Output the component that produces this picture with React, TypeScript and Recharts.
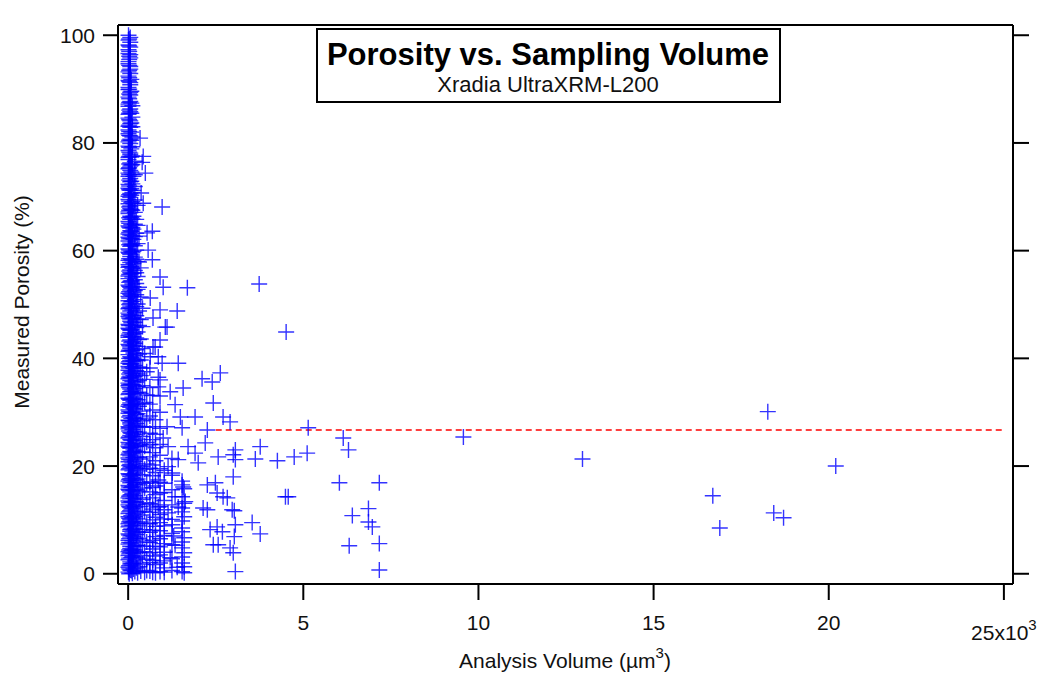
import { ReferenceLine, Scatter, ScatterChart, XAxis, YAxis } from 'recharts';

// analysis volume in 10^3 µm³, porosity in %
// dense column of small volumes: one list of porosities per volume
const coreVolumes = [0.01, 0.03, 0.06, 0.09, 0.12, 0.15, 0.19, 0.23, 0.27, 0.31, 0.36, 0.41, 0.47, 0.53];
const coreA = [
  0.3, 1.2, 2.6, 3.4, 4.1, 5.5, 6.2, 7.4, 8.7, 9.3, 10.6, 11.2, 12.8, 13.5, 14.1, 15.7, 16.4, 17.2, 18.6, 19.3,
  20.8, 21.5, 22.1, 23.7, 24.4, 25.2, 26.9, 27.3, 28.5, 29.8, 30.4, 31.1, 32.6, 33.3, 34.9, 35.4, 36.2, 37.8,
  38.5, 39.1, 40.7, 41.3, 42.6, 43.9, 44.2, 45.6, 46.3, 47.8, 48.4, 49.2, 50.7, 51.5, 52.1, 53.6, 54.8, 55.3,
  56.9, 57.4, 58.2, 59.7, 60.3, 61.8, 62.5, 63.1, 64.6, 65.4, 66.9, 67.2, 68.7, 69.5, 70.1, 71.6, 72.3, 73.8,
  74.4, 75.2, 76.9, 77.3, 78.6, 79.4, 80.2, 81.7, 82.4, 83.1, 84.6, 85.3, 86.8, 87.2, 88.5, 89.9, 90.3, 91.6,
  92.4, 93.2, 94.7, 95.1, 96.6, 97.3, 98.2, 99.1, 100,
];
const coreA2 = [
  0.0, 0.9, 1.5, 2.9, 3.7, 4.4, 5.8, 6.5, 7.2, 8.9, 9.6, 10.3, 11.5, 12.5, 13.2, 14.4, 15.5, 16.1, 17.5, 18.4,
  19.5, 20.1, 21.2, 22.4, 23.5, 24.1, 25.4, 26.5, 27.1, 28.4, 29.1, 30.1, 31.4, 32.4, 33.5, 34.6, 35.1, 36.5,
  37.1, 38.2, 39.4, 40.0, 41.5, 42.4, 43.2, 44.5, 45.4, 46.1, 47.5, 48.1, 49.4, 50.0, 51.2, 52.4, 53.4, 54.1,
  55.6, 56.2, 57.1, 58.5, 59.5, 60.1, 61.1, 62.2, 63.4, 64.4, 65.1, 66.1, 67.5, 68.1, 69.2, 70.4, 71.3, 72.0,
  73.1, 74.1, 75.4, 76.1, 77.5, 78.3, 79.2, 80.5, 81.4, 82.1, 83.3, 84.3, 85.5, 86.1, 87.5, 88.2, 89.1, 90.0,
  91.4, 92.1, 93.5, 94.4, 95.5, 96.1, 97.0, 98.0, 99.3,
];
const coreB = [
  0.7, 1.8, 2.2, 3.9, 4.7, 5.1, 6.8, 7.9, 8.2, 9.8, 10.1, 11.7, 12.3, 13.9, 14.6, 15.2, 16.9, 17.7, 18.1, 19.8,
  20.3, 21.9, 22.7, 23.3, 24.9, 25.7, 26.2, 27.8, 28.1, 29.4, 30.9, 31.7, 32.2, 33.8, 34.3, 35.9, 36.7, 37.4,
  38.9, 39.6, 40.3, 41.8, 42.1, 43.4, 44.8, 45.2, 46.9, 47.3, 48.8, 49.7, 50.2, 51.9, 52.7, 53.2, 54.3, 55.9,
  56.4, 57.8, 58.9, 59.3, 60.8, 61.4, 62.9, 63.7, 64.2, 65.8, 66.4, 67.8, 68.3, 69.9, 70.6, 71.2, 72.8, 73.4,
  74.9, 75.7, 76.3, 77.8, 78.1, 79.9, 80.7, 81.3, 82.9, 83.6, 84.1, 85.8, 86.3, 87.7, 88.9, 89.4, 90.8, 91.2,
  92.9, 93.7, 94.2, 95.8, 96.4, 97.8, 98.7, 99.6,
];
const coreB2 = [
  0.6, 1.9, 3.0, 4.3, 5.7, 7.1, 8.3, 9.5, 10.8, 12.0, 13.4, 14.7, 16.0, 17.3, 18.5, 19.9, 21.1, 22.6, 23.5,
  24.8, 26.1, 27.5, 28.8, 30.0, 31.3, 32.4, 33.9, 35.2, 36.4, 37.6, 39.0, 40.1, 41.4, 42.9, 44.0, 45.3, 46.6,
  48.0, 49.3, 50.5, 51.7, 53.0, 54.4, 55.7, 57.0, 58.4, 59.9, 61.0, 62.2, 63.6, 64.8, 66.2, 67.6, 68.9, 70.3,
  71.5, 72.9, 74.6, 75.9, 77.4, 78.9, 80.5, 82.0, 83.7, 85.5, 87.4, 89.6, 91.8,
];
const coreC = [
  0.1, 1.6, 3.2, 4.5, 6.1, 7.6, 9.0, 10.4, 12.1, 13.3, 14.9, 16.2, 17.8, 19.1, 20.6, 22.4, 23.9, 25.5, 26.8,
  28.3, 29.9, 31.4, 32.8, 34.1, 35.7, 37.2, 38.4, 39.9, 41.5, 43.1, 44.5, 46.1, 47.4, 49.0, 50.6, 52.3, 53.8,
  55.1, 56.7, 58.1, 59.6, 61.2, 62.8, 64.3, 65.9, 67.5, 69.1, 70.8, 72.4, 74.2, 76.0, 77.6, 79.3, 81.1, 83.0,
  84.8, 86.9,
];
const coreC2 = [
  0.9, 2.0, 3.8, 5.0, 6.9, 8.1, 9.7, 11.1, 12.7, 14.0, 15.5, 17.0, 18.3, 19.7, 21.6, 23.0, 24.2, 25.9, 27.6,
  29.0, 30.7, 32.0, 33.4, 35.1, 36.8, 38.1, 39.5, 41.0, 42.4, 44.0, 45.8, 47.6, 49.7, 51.5, 53.3, 55.8, 57.6,
  59.9, 62.1, 64.0, 66.4, 68.7, 71.2, 73.8,
];
const coreD = [
  0.4, 2.4, 4.4, 6.6, 8.4, 10.6, 12.4, 14.5, 16.6, 18.7, 20.9, 22.8, 24.7, 26.4, 28.8, 30.6, 32.5, 34.4, 36.6,
  38.7, 40.5, 42.8, 44.6, 46.7, 48.5, 50.9, 52.6, 54.6, 56.3, 58.8, 60.9, 62.6, 64.9, 67.1, 69.4, 71.9, 74.1, 76.6,
];
const coreD2 = [
  1.1, 3.1, 5.2, 7.3, 9.3, 11.3, 13.4, 15.6, 17.4, 19.6, 21.7, 23.6, 25.8, 27.9, 29.6, 31.5, 33.6, 35.6, 37.7,
  39.8, 41.6, 43.8, 45.7, 47.9, 49.6, 51.8, 53.9, 55.9, 58.4, 60.1, 63.2, 65.8,
];
const coreE = [
  0.2, 2.9, 5.3, 7.8, 10.2, 12.9, 15.4, 17.6, 20.1, 22.6, 25.0, 27.4, 29.7, 32.3, 34.8, 37.1, 39.6, 42.2, 44.9,
  47.3, 50.1, 52.8, 55.2, 58.0, 61.3, 64.7, 68.4,
];
const coreE2 = [
  1.3, 4.0, 6.6, 8.9, 11.5, 14.1, 16.5, 19.1, 21.6, 23.8, 26.3, 28.7, 31.1, 33.7, 35.9, 38.4, 40.8, 43.5, 46.1,
  48.8, 53.2, 57.9, 62.7,
];
const coreF = [0.5, 3.4, 6.3, 9.6, 12.5, 15.2, 18.4, 21.3, 24.1, 27.3, 30.2, 33.5, 36.8, 39.7, 43.6, 47.2, 51.4, 56.8];
const coreF2 = [1.8, 5.1, 7.7, 10.9, 13.8, 16.9, 19.9, 22.6, 25.5, 28.4, 31.6, 34.9, 38.2, 41.8, 45.9, 49.3];
const coreG = [0.3, 4.1, 8.2, 11.6, 15.9, 19.4, 23.7, 27.2, 31.8, 36.1, 40.9];
const coreG2 = [0.6, 2.7, 5.9, 9.4, 13.2, 16.8, 20.4, 24.4, 28.9, 33.2, 37.5];
const coreLists = [
  coreA, coreA2, coreB, coreB2, coreC, coreC2, coreD, coreD2, coreE, coreE2, coreF, coreF2, coreG, coreG2,
];

// thinner columns of repeated volumes in the lower part
const stripVolumes = [0.62, 0.70, 0.78, 0.91, 1.03, 1.25, 1.54, 1.60];
const stripA = [38.2, 34.6, 31.5, 29.3, 26.1, 24.0, 21.7, 19.6, 17.1, 15.2, 13.0, 11.4, 9.3, 7.7, 5.8, 3.9, 2.1, 0.5];
const stripB = [0.3, 2.5, 4.6, 6.2, 8.1, 10.0, 12.0, 14.1, 16.0, 18.2, 20.2, 22.5, 24.9, 27.3, 30.4, 33.1];
const stripC = [28.6, 25.9, 23.4, 21.0, 18.8, 16.3, 14.7, 12.8, 10.5, 8.8, 6.9, 5.1, 3.3, 1.7, 0.2];
const stripD = [0.4, 2.0, 3.5, 5.0, 6.5, 8.0, 9.5, 11.0, 12.5, 15.0, 17.0, 19.5, 22.0, 24.0, 27.0, 30.0, 33.0, 36.0];
const stripE = [19.2, 16.8, 15.1, 13.6, 11.9, 10.2, 8.9, 7.1, 5.6, 4.0, 2.4, 1.1, 0.3];
const stripF = [0.6, 2.8, 5.4, 7.5, 10.1, 12.8, 15.6, 18.3, 21.4];
const stripG = [17.2, 16.5, 14.3, 12.2, 11.5, 9.8, 8.5, 7.8, 5.9, 4.8, 3.1, 2.0, 0.4];
const stripH = [0.2, 1.3, 3.9, 6.7, 10.6, 13.1, 15.8];
const stripLists = [stripA, stripB, stripC, stripD, stripE, stripF, stripG, stripH];

// individual samples
const sampleVolume = [
  0.34, 0.43, 0.40, 0.49, 0.37, 0.43, 0.97, 0.54, 0.69, 0.57, 0.69, 0.91, 1.0, 1.69, 3.74, 0.63, 0.91, 1.40,
  0.71, 1.06, 1.11, 4.51, 0.91, 0.71, 0.77, 0.86, 0.63, 1.43, 0.97, 0.86, 2.11, 2.40, 2.63, 1.57, 1.20, 0.86,
  2.43, 1.34, 1.91, 2.71, 2.91, 1.49, 1.11, 1.54, 2.26, 1.0, 2.2, 1.71, 1.91, 2.57, 3.0, 2.0, 1.43, 1.14, 3.0,
  1.57, 2.26, 2.49, 2.54, 2.71, 1.34, 1.63, 2.14, 2.26, 2.97, 1.14, 1.26, 0.86, 1.43, 0.86, 1.14, 1.26, 1.34,
  1.2, 1.4, 1.3, 5.14, 3.77, 3.06, 3.06, 3.63, 4.26, 4.74, 5.11, 4.49, 4.57, 2.83, 3.06, 3.54, 3.77, 2.34,
  2.54, 2.69, 2.43, 2.57, 2.91, 3.0, 3.06, 3.03, 3.03, 6.14, 6.29, 9.57, 12.97, 6.03, 7.17, 6.40, 6.86, 6.86,
  6.97, 6.31, 7.17, 7.17, 18.26, 20.2, 16.69, 16.89, 18.43, 18.71,
];
const samplePorosity = [
  80.9, 77.5, 76.4, 74.4, 70.7, 68.8, 68.1, 63.3, 63.6, 60.1, 58.3, 55.1, 53.2, 53.1, 53.8, 51.2, 49.0, 48.8,
  47.5, 45.8, 45.8, 44.9, 43.4, 42.1, 42.1, 40.3, 40.3, 39.1, 39.1, 36.5, 36.2, 35.6, 37.3, 34.5, 33.8, 34.7,
  31.7, 31.4, 29.1, 29.1, 28.2, 29.1, 27.3, 27.1, 26.7, 25.2, 24.3, 23.6, 22.4, 21.7, 22.1, 20.6, 21.2, 19.9, 18.0,
  16.1, 16.5, 16.9, 15.0, 14.3, 14.3, 13.4, 12.2, 11.9, 11.9, 23.6, 18.7, 17.4, 12.4, 12.4, 11.3, 9.1, 5.3,
  3.0, 1.2, 7.0, 27.1, 23.6, 23.0, 21.2, 21.3, 21.0, 21.7, 22.4, 14.3, 14.3, 14.1, 9.1, 9.5, 7.4, 8.2,
  8.7, 7.8, 5.4, 5.4, 4.8, 3.9, 0.4, 6.9, 11.7, 25.2, 23.0, 25.4, 21.3, 16.9, 16.9, 10.8, 12.1, 9.6,
  8.7, 5.2, 5.6, 0.7, 30.1, 20.0, 14.5, 8.5, 11.3, 10.4,
];

// mean porosity, dashed line
const meanPorosity = 26.7;
const meanFrom = 2.5;
const meanTo = 25;

const xTicks = [0, 5, 10, 15, 20, 25];
const yTicks = [0, 20, 40, 60, 80, 100];
const xDomain = [-0.29, 25.26];
const yDomain = [-1.9, 101.9];

const points = [
  ...coreLists.flatMap((ys, i) => ys.map((y) => ({ vol: coreVolumes[i], por: y }))),
  ...stripLists.flatMap((ys, i) => ys.map((y) => ({ vol: stripVolumes[i], por: y }))),
  ...sampleVolume.map((v, i) => ({ vol: v, por: samplePorosity[i] })),
];

const FONT = '"Liberation Sans", Arial, Helvetica, sans-serif';

// eslint-disable-next-line @typescript-eslint/no-explicit-any
const Plus = (props: any) => {
  const { cx, cy } = props;
  return (
    <path
      d={`M${cx - 8} ${cy}H${cx + 8}M${cx} ${cy - 8}V${cy + 8}`}
      stroke="#0000ff"
      strokeWidth={1.4}
      strokeOpacity={0.8}
      fill="none"
    />
  );
};

// eslint-disable-next-line @typescript-eslint/no-explicit-any
const BottomTick = (props: any) => {
  const { x, y, payload } = props;
  if (payload.value === 25) {
    return (
      <text x={x} y={y + 10} dy="0.71em" textAnchor="middle" fontSize={21} fontFamily={FONT} fill="#111">
        25x10
        <tspan dy={-10} fontSize={15}>
          3
        </tspan>
      </text>
    );
  }
  return (
    <text x={x} y={y} dy="0.71em" textAnchor="middle" fontSize={21} fontFamily={FONT} fill="#111">
      {payload.value}
    </text>
  );
};

const noLabel = () => <g />;

const axisLine = { stroke: '#000', strokeWidth: 2 };
const tickLine = { stroke: '#000', strokeWidth: 2 };

const App = () => {
  return (
    <div style={{ position: 'relative', width: 1039, height: 677, background: '#fff' }}>
      <style>{'body{margin:0}'}</style>
      <ScatterChart width={1039} height={677} margin={{ top: 0, right: 0, bottom: 0, left: 0 }}>
        <XAxis
          dataKey="vol"
          type="number"
          domain={xDomain}
          ticks={xTicks}
          interval={0}
          allowDataOverflow
          height={93}
          tickSize={16}
          tickMargin={15}
          axisLine={axisLine}
          tickLine={tickLine}
          tick={<BottomTick />}
          label={() => (
            <text x={565} y={668} textAnchor="middle" fontSize={21} fontFamily={FONT} fill="#111">
              Analysis Volume (µm
              <tspan dy={-10} fontSize={15}>
                3
              </tspan>
              <tspan dy={10}>)</tspan>
            </text>
          )}
        />
        <XAxis
          xAxisId="top"
          orientation="top"
          type="number"
          domain={xDomain}
          ticks={xTicks}
          interval={0}
          allowDataOverflow
          height={25}
          tickSize={15}
          axisLine={axisLine}
          tickLine={tickLine}
          tick={noLabel}
        />
        <YAxis
          dataKey="por"
          type="number"
          domain={yDomain}
          ticks={yTicks}
          interval={0}
          allowDataOverflow
          width={118}
          tickSize={15}
          tickMargin={8}
          axisLine={axisLine}
          tickLine={tickLine}
          tick={{ fontSize: 21, fontFamily: FONT, fill: '#111' }}
          label={() => (
            <text
              x={29}
              y={302}
              textAnchor="middle"
              fontSize={21}
              fontFamily={FONT}
              fill="#111"
              transform="rotate(-90 29 302)"
            >
              Measured Porosity (%)
            </text>
          )}
        />
        <YAxis
          yAxisId="right"
          orientation="right"
          type="number"
          domain={yDomain}
          ticks={yTicks}
          interval={0}
          allowDataOverflow
          width={26}
          tickSize={16}
          axisLine={axisLine}
          tickLine={tickLine}
          tick={noLabel}
        />
        <Scatter data={points} shape={<Plus />} isAnimationActive={false} />
        <ReferenceLine
          segment={[
            { x: meanFrom, y: meanPorosity },
            { x: meanTo, y: meanPorosity },
          ]}
          stroke="#ff0000"
          strokeWidth={1.6}
          strokeDasharray="6 4"
        />
      </ScatterChart>
      <svg width={1039} height={677} style={{ position: 'absolute', left: 0, top: 0, pointerEvents: 'none' }}>
        <rect x={317} y={29} width={463} height={73} fill="#fff" stroke="#000" strokeWidth={2} />
        <text x={548} y={65} textAnchor="middle" fontSize={31} fontWeight="bold" fontFamily={FONT} fill="#000">
          Porosity vs. Sampling Volume
        </text>
        <text x={548} y={92} textAnchor="middle" fontSize={22} fontFamily={FONT} fill="#111">
          Xradia UltraXRM-L200
        </text>
      </svg>
    </div>
  );
};

export default App;
